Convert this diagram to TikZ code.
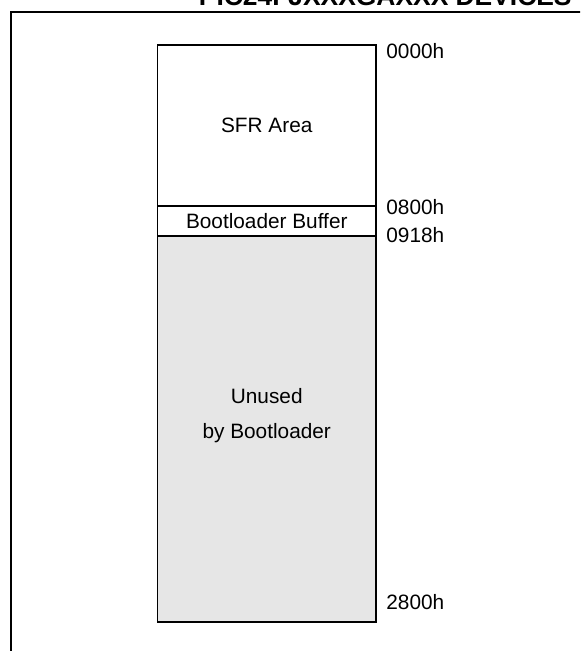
\documentclass[tikz,border=0pt]{standalone}
\usepackage{fontspec}
\setmainfont{Liberation Sans}
\usetikzlibrary{positioning}
\definecolor{relleno}{HTML}{E6E6E6}

\begin{document}
\begin{tikzpicture}[
      x=0.5pt, y=-0.5pt,
      font=\fontsize{10.4}{17.5}\selectfont,
      zona/.style={draw, line width=0.9pt, minimum width=109.25pt, inner sep=0pt,
                   outer sep=0pt, align=center},
      dir/.style={anchor=base west, inner sep=0pt},
      marco/.style={line width=1pt},
      titulo/.style={font=\fontsize{13.2}{15}\selectfont\bfseries, anchor=base east,
                     inner sep=0pt},
    ]
    \useasboundingbox (0,0) rectangle (580,651);
    \clip (0,0) rectangle (580,651);

    % =============== MARCO =================================================
    \node[titulo] (tit) at (572,6) {PIC24FJXXXGAXXX DEVICES};
    \draw[marco] (11,670) |- (600,12);

    % =============== MAPA DE MEMORIA =======================================
    \node[zona, minimum height=80.35pt, anchor=north west] (sfr) at (157.5,45) {SFR Area};
    \node[zona, minimum height=15pt, below=0pt of sfr] (buf) {Bootloader Buffer};
    \node[zona, fill=relleno, minimum height=193pt, below=0pt of buf] (resto) {};
    \node[align=center, inner sep=0pt] (tresto) at (266.75,416) {Unused\\by Bootloader};

    % =============== DIRECCIONES ===========================================
    \node[dir] (d0000) at (386,59)  {0000h};
    \node[dir] (d0800) at (386,215) {0800h};
    \node[dir] (d0918) at (386,243) {0918h};
    \node[dir] (d2800) at (386,609) {2800h};
  \end{tikzpicture}
\end{document}
